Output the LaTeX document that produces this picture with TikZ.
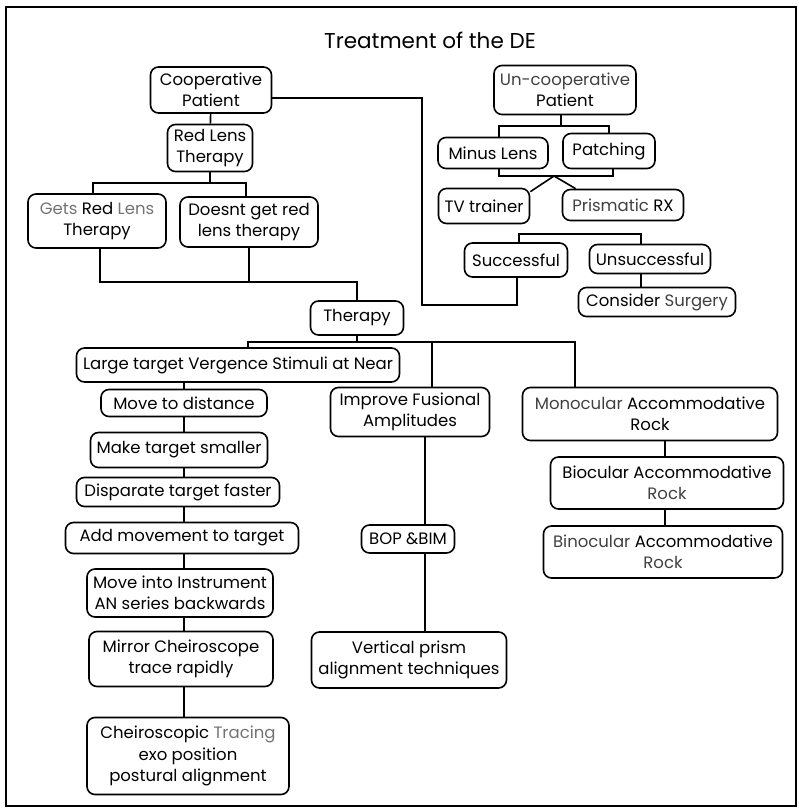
\documentclass[tikz,border=0pt]{standalone}
\usepackage{fontspec}
\setmainfont{Poppins}
\usepackage{tikz}
\usetikzlibrary{positioning}
\tikzstyle{box}=[draw=black, line width=1.6pt, rounded corners=8pt, align=center,
        inner sep=1pt, text=black, font=\fontsize{16.5}{21.5}\selectfont]
\tikzstyle{link}=[draw=black, line width=1.6pt]
\newcommand{\lt}[1]{\textcolor{black!55}{#1}}

\begin{document}
\begin{tikzpicture}[x=1pt, y=-1pt]
\useasboundingbox (0,0) rectangle (798,810);
\draw[line width=2pt] (6,7) rectangle (796,806);
\node[font=\fontsize{21.5}{26}\selectfont] (title) at (430,40) {Treatment of the DE};

\node[box, minimum width=121pt, minimum height=46pt] (coop) at (211,90) {Cooperative\\Patient};
\node[box, minimum width=85pt, minimum height=47pt] (red) at (210,148) {Red Lens\\Therapy};
\node[box, minimum width=138pt, minimum height=54pt] (gets) at (97,221) {\lt{Gets} Red \lt{Lens}\\Therapy};
\node[box, minimum width=138pt, minimum height=50pt] (doesnt) at (249,222) {Doesnt get red\\lens therapy};
\node[box, minimum width=93pt, minimum height=34pt] (therapy) at (357,318) {Therapy};

\node[box, minimum width=323pt, minimum height=34pt] (large) at (238,365) {Large target Vergence Stimuli at Near};
\node[box, minimum width=166pt, minimum height=27pt] (move) at (184,403) {Move to distance};
\node[box, minimum width=177pt, minimum height=35pt] (smaller) at (179,450) {Make target smaller};
\node[box, minimum width=203pt, minimum height=29pt] (faster) at (178,492) {Disparate target faster};
\node[box, minimum width=233pt, minimum height=31pt] (addmove) at (182,538) {Add movement to target};
\node[box, minimum width=186pt, minimum height=48pt] (instr) at (180,593) {Move into Instrument\\AN series backwards};
\node[box, minimum width=184pt, minimum height=55pt] (mirror) at (181,659) {Mirror Cheiroscope\\trace rapidly};
\node[box, minimum width=202pt, minimum height=77pt] (tracing) at (188,756) {Cheiroscopic \lt{Tracing}\\exo position\\postural alignment};

\node[box, minimum width=159pt, minimum height=49pt] (fusional) at (410,412) {Improve Fusional\\Amplitudes};
\node[box, minimum width=93pt, minimum height=28pt] (bopbim) at (408,539) {BOP \&BIM};
\node[box, minimum width=195pt, minimum height=56pt] (vprism) at (409,660) {Vertical prism\\alignment techniques};

\node[box, minimum width=255pt, minimum height=53pt] (mono) at (650,414) {\textcolor{black!75}{Monocular} Accommodative\\Rock};
\node[box, minimum width=233pt, minimum height=52pt] (bio) at (667,483) {Biocular Accommodative\\\textcolor{black!75}{Rock}};
\node[box, minimum width=239pt, minimum height=52pt] (bino) at (663,552) {\textcolor{black!75}{Binocular} Accommodative\\\textcolor{black!75}{Rock}};

\node[box, minimum width=142pt, minimum height=49pt] (uncoop) at (565,90) {\textcolor{black!75}{Un-cooperative}\\Patient};
\node[box, minimum width=110pt, minimum height=31pt] (minus) at (493,153) {Minus Lens};
\node[box, minimum width=92pt, minimum height=35pt] (patch) at (609,151) {Patching};
\node[box, minimum width=91pt, minimum height=35pt] (tv) at (484,206) {TV trainer};
\node[box, minimum width=121pt, minimum height=31pt] (prismrx) at (623,205) {\textcolor{black!75}{Prismatic} RX};
\node[box, minimum width=103pt, minimum height=34pt] (succ) at (516,260) {Successful};
\node[box, minimum width=121pt, minimum height=29pt] (unsucc) at (650,259) {Unsuccessful};
\node[box, minimum width=157pt, minimum height=29pt] (surgery) at (657,302) {Consider \textcolor{black!75}{Surgery}};

\coordinate (redbar) at (210,183);
\coordinate (redjoin) at (357,282);
\coordinate (thjoin) at (357,342);
\coordinate (lspine) at (184,0);
\coordinate (mspine) at (425,0);
\coordinate (rspine) at (665,0);
\coordinate (ubar) at (561,126);
\coordinate (mbar) at (554,176);
\coordinate (sbar) at (579,234);
\coordinate (back) at (422,305);

\draw[link] (coop) -- (red);
\draw[link] (red) -- (redbar);
\draw[link] ([xshift=-4pt]gets.north) |- (redbar) -| ([xshift=-3pt]doesnt.north);
\draw[link] ([xshift=3pt]gets.south) |- (redjoin) -- (therapy.north);
\draw[link] (doesnt.south) -- (doesnt.south |- redjoin);
\draw[link] (therapy.south) -- (thjoin);
\draw[link] ([xshift=10pt]large.north) |- (thjoin) -| ([xshift=-75pt]mono.north);
\draw[link] ([xshift=22pt]fusional.north) -- ([xshift=22pt]fusional.north |- thjoin);

\foreach \a/\b in {large/move, move/smaller, smaller/faster, faster/addmove, addmove/instr, instr/mirror, mirror/tracing}
  \draw[link] (\a.south -| lspine) -- (\b.north -| lspine);
\foreach \a/\b in {fusional/bopbim, bopbim/vprism}
  \draw[link] (\a.south -| mspine) -- (\b.north -| mspine);
\foreach \a/\b in {mono/bio, bio/bino}
  \draw[link] (\a.south -| rspine) -- (\b.north -| rspine);

\draw[link] (uncoop.south -| ubar) -- (ubar);
\draw[link] ([xshift=6pt]minus.north) |- (ubar) -| (patch.north);
\draw[link] ([xshift=6pt]minus.south) |- (mbar) -| ([xshift=4pt]patch.south);
\draw[link] ([yshift=-4pt]tv.north east) -- (mbar) -- ([xshift=14pt]prismrx.north west);
\draw[link] ([xshift=3pt]succ.north) |- (sbar) -| ([xshift=-9pt]unsucc.north);
\draw[link] ([xshift=-9pt]unsucc.south) -- ([xshift=-9pt]unsucc.south |- surgery.north);
\draw[link] ([xshift=1pt]succ.south) |- (back) |- ([yshift=-8pt]coop.east);
\end{tikzpicture}
\end{document}
